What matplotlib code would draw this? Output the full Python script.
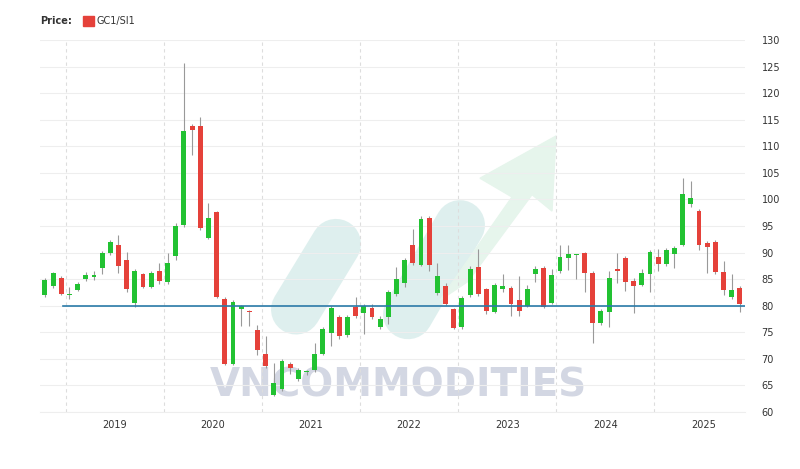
import matplotlib.pyplot as plt
from matplotlib.lines import Line2D
from matplotlib.patches import Polygon

# monthly GC1/SI1 candles, Oct 2018 onwards
opens = [82.0, 83.7, 85.3, 82.0, 83.0, 85.1, 85.5, 87.1, 89.9, 91.4,
         88.6, 80.6, 85.9, 83.6, 86.5, 84.5, 89.3, 95.2, 113.8, 113.8,
         92.8, 97.6, 81.3, 69.0, 79.4, 78.9, 75.4, 71.0, 63.2, 64.3,
         69.1, 66.2, 67.5, 67.9, 71.0, 74.8, 77.9, 74.5, 79.8, 78.6,
         79.6, 76.0, 77.9, 82.3, 84.2, 91.5, 87.7, 96.6, 82.4, 83.8,
         79.3, 76.0, 82.0, 87.3, 83.1, 78.9, 83.2, 83.4, 81.1, 80.0,
         85.9, 87.1, 80.6, 86.5, 89.0, 89.5, 89.9, 86.2, 76.8, 78.9,
         87.0, 88.9, 84.7, 84.0, 86.0, 89.2, 87.8, 89.7, 91.5, 99.1,
         97.9, 91.9, 92.0, 86.3, 81.7, 83.4]
closes = [84.9, 86.1, 82.3, 82.3, 84.1, 85.8, 85.8, 89.9, 92.0, 87.5,
          83.2, 86.6, 83.6, 86.1, 84.7, 88.1, 95.1, 112.8, 113.1, 94.6,
          96.5, 81.7, 69.0, 80.7, 79.9, 78.8, 71.7, 68.6, 65.4, 69.6,
          68.2, 67.9, 67.6, 71.0, 75.6, 79.6, 74.3, 77.8, 78.0, 79.9,
          77.8, 77.6, 82.6, 85.1, 88.6, 88.1, 96.4, 87.6, 85.6, 80.4,
          75.9, 81.5, 87.0, 82.2, 79.0, 83.9, 83.8, 80.4, 79.0, 83.1,
          86.9, 79.8, 85.8, 89.2, 89.7, 89.6, 86.2, 76.8, 79.0, 85.3,
          86.6, 84.4, 83.7, 86.1, 90.2, 87.8, 90.4, 90.9, 101.0, 100.3,
          91.4, 91.1, 86.3, 83.0, 83.0, 80.4]
highs = [85.2, 86.4, 85.6, 83.6, 84.4, 86.3, 86.6, 90.3, 92.3, 93.3,
         90.2, 86.9, 86.2, 86.5, 88.1, 90.0, 95.6, 125.6, 114.3, 115.6,
         99.4, 97.9, 81.6, 81.0, 80.2, 79.2, 76.3, 74.3, 69.2, 70.0,
         69.4, 68.3, 68.0, 72.9, 76.0, 80.0, 78.3, 78.2, 81.6, 80.3,
         80.4, 78.0, 83.0, 87.3, 89.0, 94.5, 96.8, 96.9, 88.0, 84.2,
         79.6, 81.9, 87.5, 90.7, 83.4, 84.3, 85.9, 83.8, 85.6, 84.0,
         87.4, 87.5, 87.0, 91.4, 91.4, 89.8, 90.1, 86.6, 79.4, 86.6,
         90.0, 89.3, 85.2, 87.0, 90.5, 90.6, 90.8, 91.3, 104.1, 103.4,
         98.2, 92.2, 92.3, 88.4, 86.0, 83.7]
lows = [81.7, 83.4, 82.0, 81.2, 82.7, 84.7, 84.8, 86.0, 89.6, 86.1,
        82.5, 79.8, 83.3, 83.3, 84.1, 84.1, 88.7, 94.9, 108.4, 94.3,
        92.5, 81.4, 68.8, 68.8, 76.1, 76.1, 70.8, 68.3, 63.0, 64.0,
        67.2, 65.8, 67.0, 67.6, 70.7, 72.5, 73.8, 74.2, 77.7, 74.6,
        77.5, 75.7, 76.5, 81.8, 83.6, 87.7, 87.4, 86.6, 82.1, 80.1,
        75.6, 75.7, 81.7, 81.9, 78.5, 78.6, 82.6, 78.0, 78.0, 79.7,
        84.4, 79.5, 80.3, 86.2, 86.8, 85.1, 82.5, 72.9, 76.4, 76.0,
        84.2, 82.7, 78.7, 83.7, 82.6, 86.5, 87.5, 87.2, 91.2, 98.6,
        90.5, 86.1, 86.0, 82.1, 81.3, 78.8]
start_year = 2018
start_month = 10
years = [2019, 2020, 2021, 2022, 2023, 2024, 2025]
level = 80

GREEN = '#22c232'
RED = '#e5413a'

fig = plt.figure(figsize=(8, 4.69), dpi=100)
ax = fig.add_axes([0.05, 0.1215, 0.881, 0.793])
ax.set_zorder(1)

# watermark shapes (behind candles)
for (x0, y0, x1, y1) in [(0.37, 0.34, 0.42, 0.48), (0.51, 0.33, 0.575, 0.52)]:
    fig.add_artist(Line2D([x0, x1], [y0, y1], lw=36, color='#d6ecea', alpha=0.8,
                          solid_capstyle='round', zorder=0.2))
arrow = Polygon([[0.55, 0.36], [0.64, 0.58], [0.60, 0.62], [0.695, 0.71],
                 [0.69, 0.55], [0.665, 0.585], [0.585, 0.40]],
                closed=True, transform=fig.transFigure, color='#e6f5ec', zorder=0.2)
fig.add_artist(arrow)
fig.text(0.262, 0.155, 'VNCOMMODITIES', fontsize=28, fontweight='bold',
         color='#d3d7e3', zorder=0.3)

n = len(opens)
xs = list(range(n))
for i in xs:
    o, c, h, l = opens[i], closes[i], highs[i], lows[i]
    col = GREEN if c >= o else RED
    ax.vlines(i, l, h, color='#999999', lw=0.8, zorder=3)
    bot = min(o, c)
    hgt = max(abs(c - o), 0.3)
    ax.bar(i, hgt, bottom=bot, width=0.6, color=col, zorder=4)

# year boundaries
first_jan = 12 - start_month + 1
bounds = [first_jan + 12 * k - 0.45 for k in range(len(years) + 1)]
for b in bounds:
    ax.axvline(b, color='#dddddd', lw=0.8, ls=(0, (3, 3)), zorder=1)
ax.set_xticks([b + 6 for b in bounds[:-1]])
ax.set_xticklabels([str(y) for y in years], fontsize=7, color='#333333')

ax.plot([2.2, n - 0.4], [level, level], color='#2a7aa8', lw=1.2, zorder=5)

ax.set_xlim(-0.6, n - 0.4)
ax.set_ylim(60, 130)
ax.set_yticks(range(60, 131, 5))
ax.yaxis.tick_right()
ax.tick_params(axis='y', labelsize=7, colors='#333333', length=0, pad=12)
ax.tick_params(axis='x', length=0, pad=6)
ax.grid(axis='y', color='#eeeeee', lw=0.8, zorder=0)
for s in ['top', 'left', 'right']:
    ax.spines[s].set_visible(False)
ax.spines['bottom'].set_color('#eeeeee')
ax.patch.set_alpha(0)

fig.text(0.05, 0.955, 'Price:', fontsize=7, fontweight='bold', color='#333333', va='center')
fig.patches.append(plt.Rectangle((0.104, 0.944), 0.013, 0.022, color=RED,
                                 transform=fig.transFigure, figure=fig))
fig.text(0.121, 0.955, 'GC1/SI1', fontsize=7, color='#333333', va='center')

fig.savefig('out.png', dpi=100)
